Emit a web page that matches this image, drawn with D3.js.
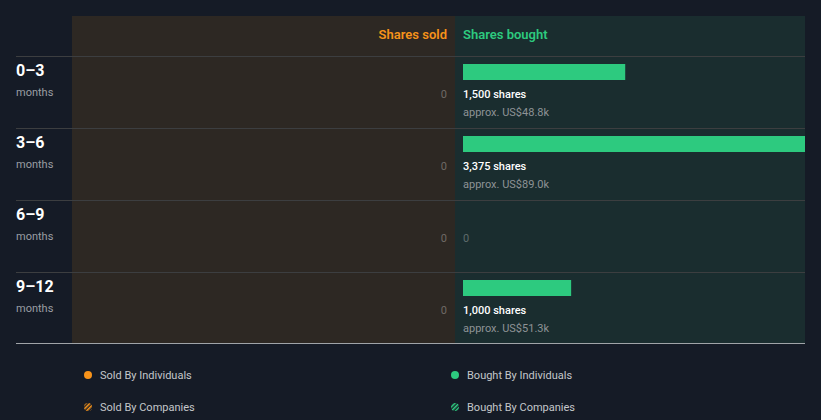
<!DOCTYPE html>
<html><head><meta charset="utf-8">
<script src="https://cdn.jsdelivr.net/npm/d3@7"></script>
<style>
html,body{margin:0;padding:0;background:#151b26;}
svg{display:block;font-family:Roboto,"Noto Sans",sans-serif;}
</style></head>
<body>
<svg id="c" width="821" height="420"></svg>
<script>
const periods = ["0–3","3–6","6–9","9–12"];
const periodUnit = "months";
const sharesSold = [0,0,0,0];
const sharesBought = [1500,3375,0,1000];
const boughtValue = ["US$48.8k","US$89.0k","","US$51.3k"];
const legendItems = ["Sold By Individuals","Bought By Individuals","Sold By Companies","Bought By Companies"];

(function(){
const svg = d3.select("#c");
const left = 16, panelL = 72, mid = 455, right = 805;
const topY = 16, headerB = 56, rowH = 72;
const bottom = headerB + rowH*periods.length - 1;

const defs = svg.append("defs");
defs.append("clipPath").attr("id","clipB").append("rect")
  .attr("x",mid).attr("y",topY).attr("width",right-mid).attr("height",bottom-topY);
function hatch(id,color){
  const p = defs.append("pattern").attr("id",id).attr("patternUnits","userSpaceOnUse")
    .attr("width",3).attr("height",3).attr("patternTransform","rotate(45)");
  p.append("rect").attr("width",3).attr("height",3).attr("fill","#151b26");
  p.append("rect").attr("width",1.6).attr("height",3).attr("fill",color);
}
hatch("hO","#f7931a"); hatch("hG","#2dca7f");

// panels
svg.append("rect").attr("x",panelL).attr("y",topY).attr("width",mid-panelL).attr("height",bottom-topY).attr("fill","#2d2823");
svg.append("rect").attr("x",mid).attr("y",topY).attr("width",right-mid).attr("height",bottom-topY).attr("fill","#1a2d2f");

// headers
svg.append("text").attr("x",mid-8).attr("y",39).attr("text-anchor","end")
  .attr("fill","#f7931a").attr("font-size",13).attr("font-weight",600).text("Shares sold");
svg.append("text").attr("x",mid+8).attr("y",39)
  .attr("fill","#2dca7f").attr("font-size",13).attr("font-weight",600).text("Shares bought");

const y = d3.scaleBand().domain(periods).range([headerB, headerB+rowH*periods.length]);
const x = d3.scaleLinear().domain([0, d3.max(sharesBought)]).range([0, 365]);

// row lines
svg.selectAll("line.row").data(periods).join("line").attr("class","row")
  .attr("x1",left).attr("x2",right)
  .attr("y1",d=>y(d)+0.5).attr("y2",d=>y(d)+0.5)
  .attr("stroke","#3c3e40").attr("stroke-width",1);
svg.append("line").attr("x1",left).attr("x2",right).attr("y1",bottom+0.5).attr("y2",bottom+0.5)
  .attr("stroke","#a0a4a8").attr("stroke-width",1);

// row labels
const rows = svg.selectAll("g.r").data(periods).join("g").attr("class","r")
  .attr("transform",d=>`translate(0,${y(d)})`);
rows.append("text").attr("x",left).attr("y",20).attr("fill","#ffffff")
  .attr("font-size",16).attr("font-weight",700).text(d=>d);
rows.append("text").attr("x",left).attr("y",40).attr("fill","#9a9ea3")
  .attr("font-size",11).text(periodUnit);

// sold values
rows.append("text").attr("x",mid-8).attr("y",42).attr("text-anchor","end")
  .attr("fill","#6f6a66").attr("font-size",11).text((d,i)=>d3.format(",")(sharesSold[i]));

// bought
const g = svg.append("g").attr("clip-path","url(#clipB)");
periods.forEach((p,i)=>{
  const v = sharesBought[i];
  const y0 = y(p);
  if(v>0){
    g.append("rect").attr("x",mid+8).attr("y",y0+8).attr("width",x(v)).attr("height",16).attr("fill","#2dca7f");
    svg.append("text").attr("x",mid+8).attr("y",y0+42).attr("fill","#ffffff").attr("font-size",11)
      .attr("font-weight",500).text(d3.format(",")(v)+" shares");
    svg.append("text").attr("x",mid+8).attr("y",y0+60).attr("fill","#8e9396").attr("font-size",11)
      .text("approx. "+boughtValue[i]);
  } else {
    svg.append("text").attr("x",mid+8).attr("y",y0+42).attr("fill","#5f6b6c").attr("font-size",11).text("0");
  }
});

// legend
const lx = [88,455], ly = [375,407];
const fills = ["#f7931a","#2dca7f","url(#hO)","url(#hG)"];
legendItems.forEach((t,i)=>{
  const cx = lx[i%2], cy = ly[Math.floor(i/2)];
  svg.append("circle").attr("cx",cx).attr("cy",cy).attr("r",4).attr("fill",fills[i]);
  svg.append("text").attr("x",cx+12).attr("y",cy+4).attr("fill","#c4c7ca").attr("font-size",11).text(t);
});
})();
</script>
</body></html>
